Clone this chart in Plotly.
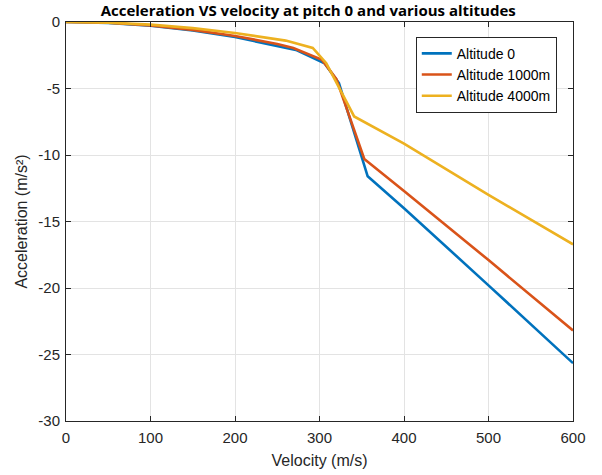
import plotly.graph_objects as go

# Altitude 0
v_alt0 = [0, 50, 100, 150, 200, 250, 272, 306, 323, 357, 400, 500, 600]
a_alt0 = [0, -0.07, -0.28, -0.64, -1.13, -1.77, -2.1, -3.1, -4.6, -11.6, -14.0, -19.8, -25.65]

# Altitude 1000m
v_alt1000 = [0, 50, 100, 150, 200, 250, 269, 303, 320, 353, 400, 500, 600]
a_alt1000 = [0, -0.06, -0.26, -0.59, -1.05, -1.65, -1.95, -2.85, -4.3, -10.3, -12.7, -17.9, -23.2]

# Altitude 4000m
v_alt4000 = [0, 50, 100, 150, 200, 260, 292, 308, 341, 400, 500, 600]
a_alt4000 = [0, -0.05, -0.2, -0.46, -0.83, -1.4, -1.95, -3.1, -7.1, -9.15, -13.0, -16.72]

names = ["Altitude 0", "Altitude 1000m", "Altitude 4000m"]
colors = ["#0072BD", "#D95319", "#EDB120"]

x_ticks = [0, 100, 200, 300, 400, 500, 600]
x_labels = ["0", "100", "200", "300", "400", "500", "600"]
y_ticks = [0, -5, -10, -15, -20, -25, -30]
y_labels = ["0", "-5", "-10", "-15", "-20", "-25", "-30"]

fig = go.Figure()
for xs, ys, nm, c in zip([v_alt0, v_alt1000, v_alt4000],
                         [a_alt0, a_alt1000, a_alt4000], names, colors):
    fig.add_trace(go.Scatter(x=xs, y=ys, mode="lines", name=nm,
                             line=dict(color=c, width=2.6)))

sans = "Liberation Sans, Arial, sans-serif"
axis_common = dict(
    showline=True, linecolor="#262626", linewidth=1, mirror="ticks",
    ticks="inside", ticklen=5, tickcolor="#262626",
    showgrid=True, gridcolor="#E3E3E3", gridwidth=1,
    zeroline=False, automargin=False,
    tickfont=dict(family=sans, size=15, color="#262626"),
)

fig.update_layout(
    width=602, height=475,
    margin=dict(l=66, r=29, t=22, b=54),
    paper_bgcolor="white", plot_bgcolor="white",
    title=dict(text="<b>Acceleration VS velocity at pitch 0 and various altitudes</b>",
               x=0.512, xanchor="center", y=0.988, yanchor="top",
               font=dict(family="Open Sans, sans-serif", size=15, color="#000000")),
    xaxis=dict(range=[0, 600], tickvals=x_ticks, ticktext=x_labels,
               ticklabelstandoff=3,
               title=dict(text="Velocity (m/s)", standoff=9,
                          font=dict(family=sans, size=16, color="#262626")),
               **axis_common),
    yaxis=dict(range=[-30, 0], tickvals=y_ticks, ticktext=y_labels,
               ticklabelstandoff=2,
               title=dict(text="Acceleration (m/s²)", standoff=6,
                          font=dict(family=sans, size=16, color="#262626")),
               **axis_common),
    legend=dict(x=0.968, y=0.963, xanchor="right", yanchor="top",
                bgcolor="white", bordercolor="#262626", borderwidth=1,
                font=dict(family=sans, size=14, color="#000000"),
                tracegroupgap=0, itemwidth=30),
    showlegend=True,
)

fig.write_html("out.html")
